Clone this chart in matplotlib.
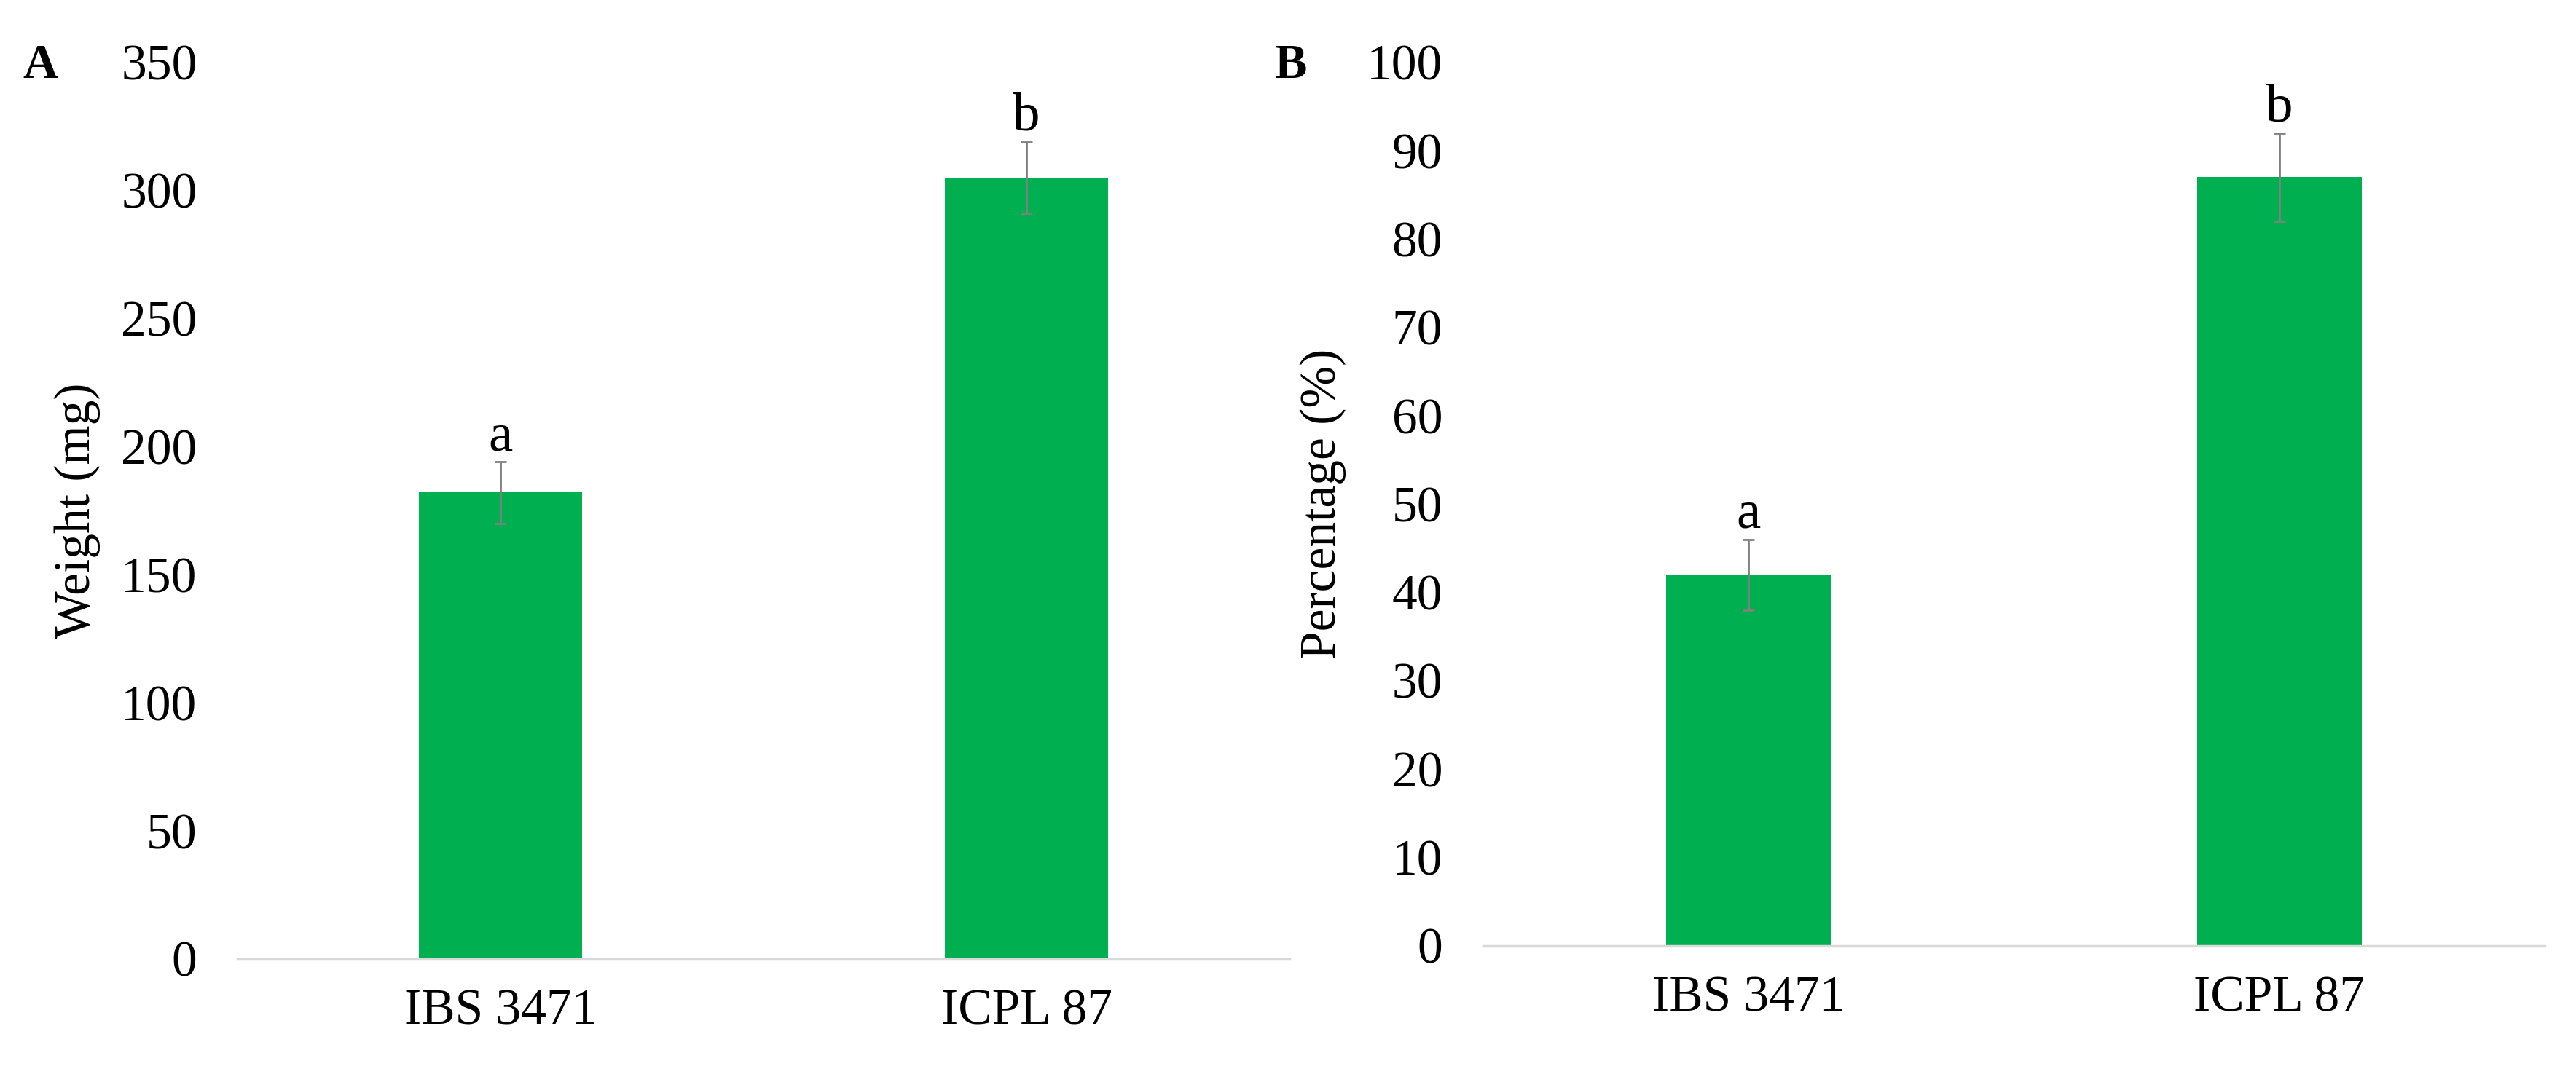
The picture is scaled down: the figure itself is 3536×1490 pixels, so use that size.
import matplotlib
matplotlib.use("Agg")
import matplotlib.pyplot as plt

categories = ["IBS 3471", "ICPL 87"]
weight = [182, 305]
weight_err = [12, 14]
weight_letters = ["a", "b"]
percent = [42, 87]
percent_err = [4, 5]
percent_letters = ["a", "b"]

plt.rcParams['font.family'] = ['Liberation Serif', 'DejaVu Serif']
green = "#00B050"
W, H = 1572, 662
fig = plt.figure(figsize=(35.36, 14.90), dpi=100)

def make(ax_px, vals, errs, letters, ymax, step, ylabel, panel, lab_off):
    l, r, top, bot = ax_px
    ax = fig.add_axes([l / W, 1 - bot / H, (r - l) / W, (bot - top) / H])
    x = range(len(vals))
    ax.bar(x, vals, width=0.31, color=green, zorder=2)
    ax.errorbar(x, vals, yerr=errs, fmt='none', ecolor='#808080', elinewidth=2, capsize=6, capthick=2, zorder=3)
    for i, (v, e, t) in enumerate(zip(vals, errs, letters)):
        ax.text(i, v + e, t, ha='center', va='bottom', fontsize=54)
    ax.set_xlim(-0.5, 1.5)
    ax.set_ylim(0, ymax)
    ax.set_yticks(range(0, ymax + 1, step))
    ax.set_xticks(list(x))
    ax.set_xticklabels(categories)
    ax.tick_params(length=0, labelsize=50, pad=30)
    ax.tick_params(axis='y', pad=40)
    for s in ['top', 'right', 'left']:
        ax.spines[s].set_visible(False)
    ax.spines['bottom'].set_color('#d9d9d9')
    ax.spines['bottom'].set_linewidth(2.5)
    ax.set_ylabel(ylabel, fontsize=50, labelpad=20)
    fig.text(lab_off / W, 1 - 40 / H, panel, fontsize=48, fontweight='bold', ha='left', va='center')
    return ax

make((145, 787, 38, 585), weight, weight_err, weight_letters, 350, 50, "Weight (mg)", "A", 14)
make((905, 1553, 38, 577), percent, percent_err, percent_letters, 100, 10, "Percentage (%)", "B", 778)
fig.savefig("out.png", dpi=100, facecolor='white')
